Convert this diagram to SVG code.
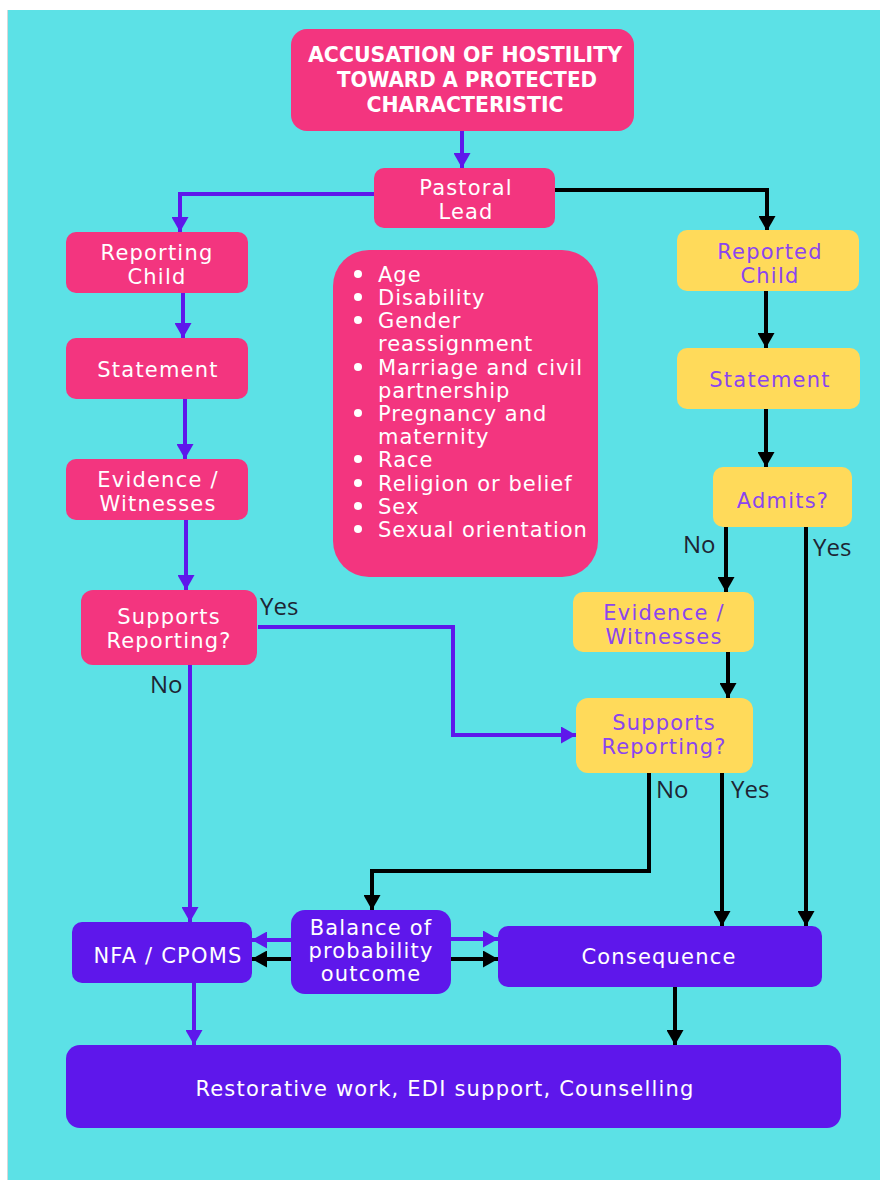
<svg xmlns="http://www.w3.org/2000/svg" width="880" height="1180" viewBox="0 0 880 1180">
<style>
.bg{fill:#5CE1E6}
.pink{fill:#F3357F}
.yel{fill:#FFDA5A}
.pur{fill:#5E17EB}
.t{font-family:"DejaVu Sans","Noto Sans",sans-serif;font-size:21px;letter-spacing:1.2px;text-anchor:middle}
.w{fill:#FFFFFF}
.pt{fill:#8B45F0}
.title{font-family:"DejaVu Sans",sans-serif;font-weight:bold;font-size:22px;fill:#FFFFFF;text-anchor:middle}
.bl{font-family:"DejaVu Sans","Noto Sans",sans-serif;font-size:21px;letter-spacing:1px;fill:#FFFFFF}
.lbl{font-family:"Open Sans","Noto Sans",sans-serif;font-size:24px;fill:#1E2533}
.cp{fill:none;stroke:#5E17EB;stroke-width:4}
.ck{fill:none;stroke:#000000;stroke-width:4}
</style>
<defs>
<marker id="ap" markerUnits="userSpaceOnUse" markerWidth="17" markerHeight="17" viewBox="0 0 17 17" refX="15" refY="8.5" orient="auto"><path d="M0,0 L15,8.5 L0,17 z" fill="#5E17EB"/></marker>
<marker id="ak" markerUnits="userSpaceOnUse" markerWidth="17" markerHeight="17" viewBox="0 0 17 17" refX="15" refY="8.5" orient="auto"><path d="M0,0 L15,8.5 L0,17 z" fill="#000000"/></marker>
</defs>
<rect x="0" y="0" width="880" height="1180" fill="#FFFFFF"/>
<rect class="bg" x="8" y="10" width="872" height="1170"/>
<line x1="7.5" y1="10" x2="7.5" y2="1180" stroke="#D8D8D8" stroke-width="1"/>

<g id="connectors">
<path class="cp" d="M462,130 V168" marker-end="url(#ap)"/>
<path class="cp" d="M374,194 H180 V232" marker-end="url(#ap)"/>
<path class="ck" d="M555,190 H767 V231" marker-end="url(#ak)"/>
<path class="cp" d="M183,293 V338" marker-end="url(#ap)"/>
<path class="cp" d="M185,399 V459" marker-end="url(#ap)"/>
<path class="cp" d="M186,520 V590" marker-end="url(#ap)"/>
<path class="cp" d="M258,627 H453 V735 H576" marker-end="url(#ap)"/>
<path class="cp" d="M190,665 V922" marker-end="url(#ap)"/>
<path class="ck" d="M766,291 V348" marker-end="url(#ak)"/>
<path class="ck" d="M766,409 V467" marker-end="url(#ak)"/>
<path class="ck" d="M726,527 V592" marker-end="url(#ak)"/>
<path class="ck" d="M806,527 V926" marker-end="url(#ak)"/>
<path class="ck" d="M728,652 V698" marker-end="url(#ak)"/>
<path class="ck" d="M649,773 V871 H372 V910" marker-end="url(#ak)"/>
<path class="ck" d="M722,773 V926" marker-end="url(#ak)"/>
<path class="cp" d="M291,940 H252" marker-end="url(#ap)"/>
<path class="ck" d="M291,959 H252" marker-end="url(#ak)"/>
<path class="cp" d="M451,939 H498" marker-end="url(#ap)"/>
<path class="ck" d="M451,959 H498" marker-end="url(#ak)"/>
<path class="cp" d="M194,983 V1045" marker-end="url(#ap)"/>
<path class="ck" d="M675,987 V1045" marker-end="url(#ak)"/>
<text class="lbl" x="260" y="615">Yes</text>
<text class="lbl" x="150" y="693">No</text>
<text class="lbl" x="683" y="553">No</text>
<text class="lbl" x="813" y="556">Yes</text>
<text class="lbl" x="656" y="798">No</text>
<text class="lbl" x="731" y="798">Yes</text>
</g>

<g id="title">
<rect class="pink" x="291" y="29" width="343" height="102" rx="16"/>
<text class="title" x="465" y="62" textLength="314" lengthAdjust="spacingAndGlyphs">ACCUSATION OF HOSTILITY</text>
<text class="title" x="467" y="87" textLength="260" lengthAdjust="spacingAndGlyphs">TOWARD A PROTECTED</text>
<text class="title" x="465" y="112" textLength="197" lengthAdjust="spacingAndGlyphs">CHARACTERISTIC</text>
</g>

<g id="pastoral-lead">
<rect class="pink" x="374" y="168" width="181" height="60" rx="10"/>
<text class="t w" x="466" y="195">Pastoral</text>
<text class="t w" x="466" y="219">Lead</text>
</g>

<g id="reporting-child">
<rect class="pink" x="66" y="232" width="182" height="61" rx="10"/>
<text class="t w" x="157" y="260">Reporting</text>
<text class="t w" x="157" y="284">Child</text>
</g>

<g id="statement-left">
<rect class="pink" x="66" y="338" width="182" height="61" rx="10"/>
<text class="t w" x="158" y="377">Statement</text>
</g>

<g id="evidence-left">
<rect class="pink" x="66" y="459" width="182" height="61" rx="10"/>
<text class="t w" x="158" y="487">Evidence /</text>
<text class="t w" x="158" y="511">Witnesses</text>
</g>

<g id="supports-left">
<rect class="pink" x="81" y="590" width="176" height="75" rx="12"/>
<text class="t w" x="169" y="624">Supports</text>
<text class="t w" x="169" y="648">Reporting?</text>
</g>

<g id="characteristics">
<rect class="pink" x="333" y="250" width="265" height="327" rx="36"/>
<g fill="#FFFFFF">
<circle cx="358" cy="274" r="4"/><circle cx="358" cy="297" r="4"/><circle cx="358" cy="320" r="4"/>
<circle cx="358" cy="367" r="4"/><circle cx="358" cy="413" r="4"/><circle cx="358" cy="459" r="4"/>
<circle cx="358" cy="483" r="4"/><circle cx="358" cy="506" r="4"/><circle cx="358" cy="529" r="4"/>
</g>
<text class="bl" x="378" y="282">Age</text>
<text class="bl" x="378" y="305">Disability</text>
<text class="bl" x="378" y="328">Gender</text>
<text class="bl" x="378" y="351">reassignment</text>
<text class="bl" x="378" y="375">Marriage and civil</text>
<text class="bl" x="378" y="398">partnership</text>
<text class="bl" x="378" y="421">Pregnancy and</text>
<text class="bl" x="378" y="444">maternity</text>
<text class="bl" x="378" y="467">Race</text>
<text class="bl" x="378" y="491">Religion or belief</text>
<text class="bl" x="378" y="514">Sex</text>
<text class="bl" x="378" y="537">Sexual orientation</text>
</g>

<g id="reported-child">
<rect class="yel" x="677" y="230" width="182" height="61" rx="10"/>
<text class="t pt" x="770" y="259">Reported</text>
<text class="t pt" x="770" y="283">Child</text>
</g>

<g id="statement-right">
<rect class="yel" x="677" y="348" width="183" height="61" rx="10"/>
<text class="t pt" x="770" y="387">Statement</text>
</g>

<g id="admits">
<rect class="yel" x="713" y="467" width="139" height="60" rx="10"/>
<text class="t pt" x="783" y="508">Admits?</text>
</g>

<g id="evidence-right">
<rect class="yel" x="573" y="592" width="181" height="60" rx="10"/>
<text class="t pt" x="664" y="620">Evidence /</text>
<text class="t pt" x="664" y="644">Witnesses</text>
</g>

<g id="supports-right">
<rect class="yel" x="576" y="698" width="177" height="75" rx="12"/>
<text class="t pt" x="664" y="730">Supports</text>
<text class="t pt" x="664" y="754">Reporting?</text>
</g>

<g id="nfa-cpoms">
<rect class="pur" x="72" y="922" width="180" height="61" rx="10"/>
<text class="t w" x="168" y="963">NFA / CPOMS</text>
</g>

<g id="balance">
<rect class="pur" x="291" y="910" width="160" height="84" rx="14"/>
<text class="t w" x="371" y="935">Balance of</text>
<text class="t w" x="371" y="958">probability</text>
<text class="t w" x="371" y="981">outcome</text>
</g>

<g id="consequence">
<rect class="pur" x="498" y="926" width="324" height="61" rx="10"/>
<text class="t w" x="659" y="964">Consequence</text>
</g>

<g id="restorative">
<rect class="pur" x="66" y="1045" width="775" height="83" rx="14"/>
<text class="t w" x="445" y="1096">Restorative work, EDI support, Counselling</text>
</g>
</svg>
